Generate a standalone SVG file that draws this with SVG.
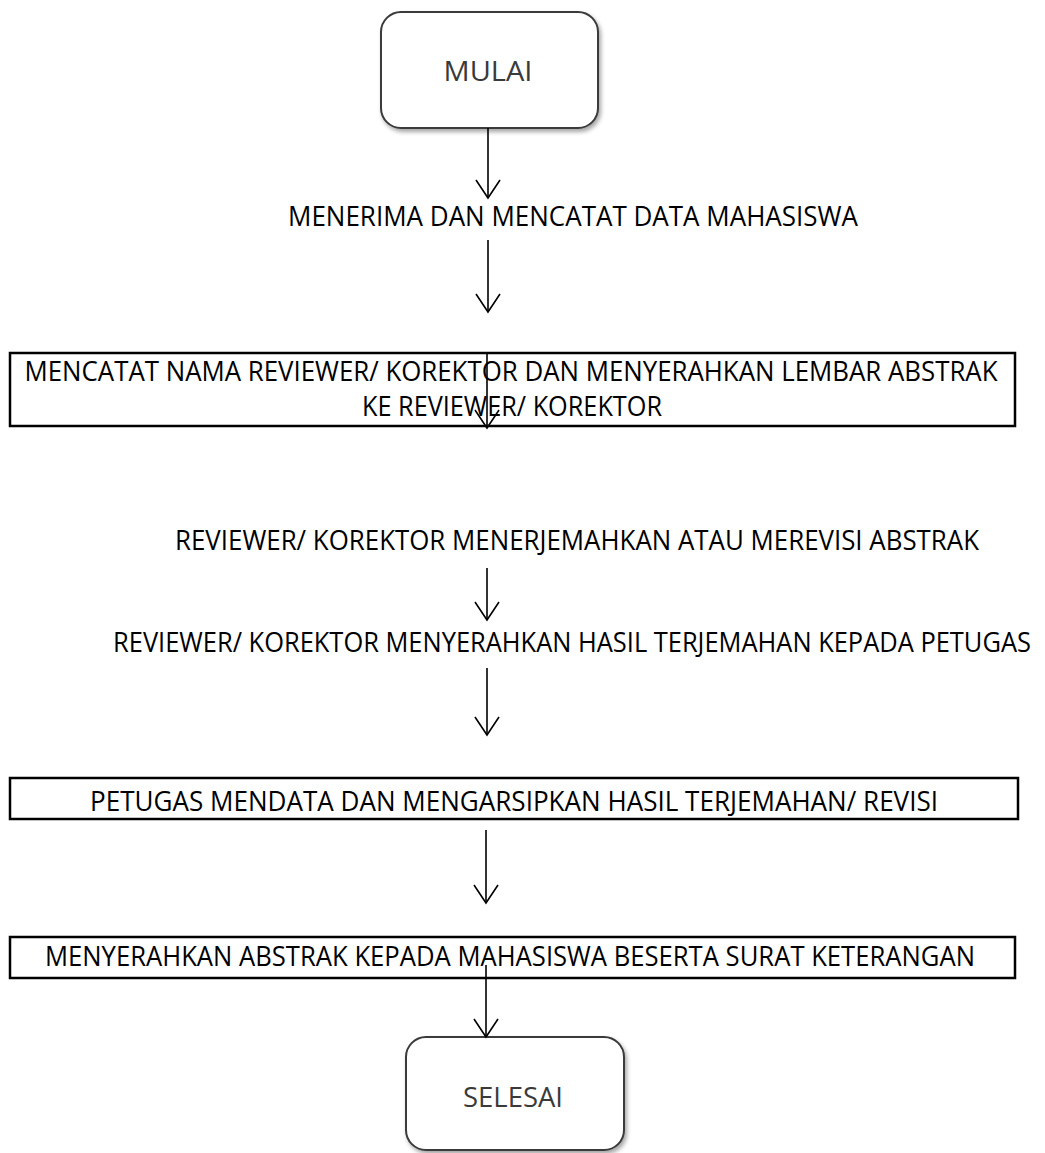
<svg xmlns="http://www.w3.org/2000/svg" width="1045" height="1153" viewBox="0 0 1045 1153">
<style>
.t{font-family:"Open Sans","Liberation Sans",sans-serif;font-size:27px;fill:#000;text-anchor:middle}
.term{fill:#fff;stroke:#3a3a3a;stroke-width:2}
.tt{font-family:"Open Sans","Liberation Sans",sans-serif;font-size:27px;fill:#3a3a3a;text-anchor:middle}
.box{fill:#fff;stroke:#000;stroke-width:2.5}
.c{stroke:#000;stroke-width:1.6;fill:none;marker-end:url(#ah)}
</style>
<defs>
<filter id="sh" x="-10%" y="-10%" width="125%" height="130%">
<feDropShadow dx="2" dy="3" stdDeviation="2" flood-color="#000" flood-opacity="0.35"/>
</filter>
<marker id="ah" markerUnits="userSpaceOnUse" markerWidth="30" markerHeight="30" viewBox="0 0 30 26" refX="20" refY="13" orient="auto">
<path d="M2,1 L20,13 L2,25" fill="none" stroke="#000" stroke-width="1.6"/>
</marker>
</defs>
<rect width="1045" height="1153" fill="#fff"/>
<g id="mulai">
<rect class="term" x="381" y="12" width="217" height="116" rx="20" filter="url(#sh)"/>
<text class="tt" x="488" y="81" textLength="89" lengthAdjust="spacingAndGlyphs">MULAI</text>
</g>
<g id="menerima">
<text class="t" x="573" y="226" textLength="570" lengthAdjust="spacingAndGlyphs">MENERIMA DAN MENCATAT DATA MAHASISWA</text>
</g>
<g id="mencatat">
<rect class="box" x="10" y="353" width="1005" height="73"/>
<text class="t" x="511" y="381" textLength="973" lengthAdjust="spacingAndGlyphs">MENCATAT NAMA REVIEWER/ KOREKTOR DAN MENYERAHKAN LEMBAR ABSTRAK</text>
<text class="t" x="512" y="416" textLength="300" lengthAdjust="spacingAndGlyphs">KE REVIEWER/ KOREKTOR</text>
</g>
<g id="menerjemahkan">
<text class="t" x="577" y="550" textLength="804" lengthAdjust="spacingAndGlyphs">REVIEWER/ KOREKTOR MENERJEMAHKAN ATAU MEREVISI ABSTRAK</text>
</g>
<g id="menyerahkan-hasil">
<text class="t" transform="translate(572,652) scale(0.87,1)" x="0" y="0" textLength="1055" lengthAdjust="spacingAndGlyphs">REVIEWER/ KOREKTOR MENYERAHKAN HASIL TERJEMAHAN KEPADA PETUGAS</text>
</g>
<g id="mendata">
<rect class="box" x="10" y="778" width="1008" height="41"/>
<text class="t" x="514" y="811" textLength="848" lengthAdjust="spacingAndGlyphs">PETUGAS MENDATA DAN MENGARSIPKAN HASIL TERJEMAHAN/ REVISI</text>
</g>
<g id="menyerahkan-abstrak">
<rect class="box" x="10" y="937" width="1005" height="41"/>
<text class="t" x="510" y="966" textLength="930" lengthAdjust="spacingAndGlyphs">MENYERAHKAN ABSTRAK KEPADA MAHASISWA BESERTA SURAT KETERANGAN</text>
</g>
<g id="selesai">
<rect class="term" x="406" y="1037" width="218" height="113" rx="20" filter="url(#sh)"/>
<text class="tt" x="513" y="1107" textLength="100" lengthAdjust="spacingAndGlyphs">SELESAI</text>
</g>
<g id="connectors">
<line class="c" x1="488" y1="128" x2="488" y2="198"/>
<line class="c" x1="488" y1="240" x2="488" y2="312"/>
<line class="c" x1="487" y1="354" x2="487" y2="428"/>
<line class="c" x1="487" y1="568" x2="487" y2="620"/>
<line class="c" x1="487" y1="668" x2="487" y2="735"/>
<line class="c" x1="486" y1="830" x2="486" y2="903"/>
<line class="c" x1="486" y1="965" x2="486" y2="1037"/>
</g>
</svg>
